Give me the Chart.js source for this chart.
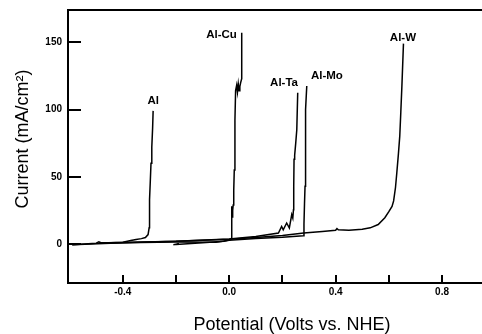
<!DOCTYPE html>
<html>
<head>
<meta charset="utf-8">
<script src="https://cdn.jsdelivr.net/npm/chart.js@4/dist/chart.umd.min.js"></script>
<style>
  html, body { margin: 0; padding: 0; background: #fff; overflow: hidden; }
  #wrap { width: 482px; height: 334px; overflow: hidden; position: relative; }
  canvas { display: block; }
</style>
</head>
<body>
<div id="wrap"><canvas id="c" width="520" height="334"></canvas></div>
<script>
// ---- Data (Potential V vs NHE, Current mA/cm2) ----
const alV   = [-0.59, -0.50, -0.49, -0.48, -0.40, -0.37, -0.35, -0.33, -0.315, -0.305, -0.301, -0.300, -0.299, -0.297, -0.294, -0.291, -0.288, -0.286];
const alI   = [-0.5, 0.6, 1.6, 0.8, 1.3, 2.6, 3.4, 4.0, 4.8, 7.0, 12, 22, 33, 45, 60, 72, 86, 99];

const cuV   = [-0.21, -0.19, -0.20, -0.10, -0.02, 0.005, 0.009, 0.010, 0.009, 0.012, 0.013, 0.015, 0.017, 0.019, 0.0215, 0.024, 0.028, 0.031, 0.034, 0.037, 0.040, 0.043, 0.047, 0.047];
const cuI   = [-0.5, 0.2, -0.3, 1.0, 2.0, 3.3, 4.5, 18, 28, 20, 25, 29, 40, 55, 92, 114, 118, 113, 119, 114, 117, 120, 123, 157];

const taV   = [-0.49, -0.40, -0.20, 0.00, 0.10, 0.185, 0.197, 0.203, 0.216, 0.226, 0.235, 0.239, 0.2415, 0.2425, 0.2437, 0.246, 0.250, 0.254, 0.2575];
const taI   = [0.8, 1.2, 2.0, 3.8, 5.5, 8.2, 13, 10.6, 15.6, 11.9, 21.8, 19.3, 25.5, 43, 63, 66, 75, 85, 112.5];

const moV   = [-0.49, -0.40, -0.20, -0.05, 0.00, 0.10, 0.20, 0.279, 0.281, 0.283, 0.285, 0.2855, 0.287, 0.2885, 0.2915];
const moI   = [0.8, 1.0, 1.5, 1.3, 2.8, 4.0, 5.0, 6.2, 15, 30, 43, 68, 92, 100, 117.5];

const wV    = [-0.59, -0.40, -0.20, 0.00, 0.10, 0.20, 0.28, 0.35, 0.40, 0.405, 0.41, 0.45, 0.50, 0.53, 0.56, 0.585, 0.600, 0.612, 0.618, 0.625, 0.630, 0.636, 0.641, 0.645, 0.649, 0.652, 0.655];
const wI    = [-0.5, 1.0, 2.0, 3.5, 4.8, 6.4, 8.2, 9.3, 10.2, 11.5, 10.6, 10.2, 11.0, 12.0, 14.5, 19.5, 24, 28, 32, 42, 53, 67, 80, 98, 117, 133, 149];

const labelNames = ["Al", "Al-Cu", "Al-Ta", "Al-Mo", "Al-W"];
const labelV     = [-0.286, -0.029, 0.206, 0.367, 0.653];
const labelI     = [106.5, 155.4, 120, 125, 153];

const xTickValues = [-0.4, -0.2, 0.0, 0.2, 0.4, 0.6, 0.8];
const xTickLabels = ["-0.4", "", "0.0", "", "0.4", "", "0.8"];
const yTickValues = [0, 50, 100, 150];
const yTickLabels = ["0", "50", "100", "150"];

// ---- build ----
function pts(xs, ys) { return xs.map((x, i) => ({ x: x, y: ys[i] })); }
const series = [
  { name: "Al", V: alV, I: alI },
  { name: "Al-Cu", V: cuV, I: cuI },
  { name: "Al-Ta", V: taV, I: taI },
  { name: "Al-Mo", V: moV, I: moI },
  { name: "Al-W", V: wV, I: wI }
];

const FONT = '"Liberation Sans", Arial, Helvetica, sans-serif';

const labelPlugin = {
  id: 'curveLabels',
  afterDatasetsDraw(chart) {
    const ctx = chart.ctx;
    const xs = chart.scales.x, ys = chart.scales.y;
    ctx.save();
    ctx.fillStyle = '#000';
    ctx.font = 'bold 11.5px ' + FONT;
    ctx.textAlign = 'center';
    ctx.textBaseline = 'middle';
    labelNames.forEach((t, i) => {
      ctx.fillText(t, xs.getPixelForValue(labelV[i]), ys.getPixelForValue(labelI[i]));
    });
    ctx.restore();
  }
};

new Chart(document.getElementById('c'), {
  type: 'line',
  data: {
    datasets: series.map(s => ({
      label: s.name,
      data: pts(s.V, s.I),
      borderColor: '#000',
      borderWidth: 1.5,
      pointRadius: 0,
      fill: false,
      tension: 0
    }))
  },
  options: {
    responsive: false,
    animation: false,
    devicePixelRatio: 1,
    layout: { padding: { left: 0, right: 4, top: 0, bottom: 0 } },
    plugins: { legend: { display: false }, tooltip: { enabled: false } },
    scales: {
      x: {
        type: 'linear',
        position: 'bottom',
        min: -0.606,
        max: 1.078,
        afterBuildTicks: (s) => { s.ticks = xTickValues.map(v => ({ value: v })); },
        afterFit: (s) => { s.height = 51; s.paddingLeft = 0; s.paddingRight = 0; },
        border: { display: true, color: '#000', width: 2 },
        grid: { drawOnChartArea: false, drawTicks: true, tickLength: -8, color: '#000', lineWidth: 2 },
        ticks: {
          autoSkip: false, maxRotation: 0, padding: 11.5, color: '#000',
          font: { family: FONT, size: 10, weight: 'bold' },
          callback: (v, i) => xTickLabels[i]
        },
        title: {
          display: true, text: 'Potential (Volts vs. NHE)', color: '#000',
          font: { family: FONT, size: 18, lineHeight: 1.0 },
          padding: { top: 0, bottom: 0 }
        }
      },
      x2: {
        type: 'linear',
        position: 'top',
        min: 0, max: 1,
        afterFit: (s) => { s.height = 10; s.paddingLeft = 0; s.paddingRight = 0; },
        border: { display: true, color: '#000', width: 2 },
        grid: { drawOnChartArea: false, drawTicks: false },
        ticks: { display: false }
      },
      y: {
        type: 'linear',
        position: 'left',
        min: -29,
        max: 174,
        afterBuildTicks: (s) => { s.ticks = yTickValues.map(v => ({ value: v })); },
        afterFit: (s) => { s.width = 68; s.paddingTop = 0; s.paddingBottom = 0; },
        border: { display: true, color: '#000', width: 2 },
        grid: { drawOnChartArea: false, drawTicks: true, tickLength: -13, color: '#000', lineWidth: 2 },
        ticks: {
          padding: 19, color: '#000',
          font: { family: FONT, size: 10, weight: 'bold' },
          callback: (v, i) => yTickLabels[i]
        },
        title: {
          display: true, text: '   Current (mA/cm²)', color: '#000',
          font: { family: FONT, size: 18, lineHeight: 1.2 },
          padding: { top: 12, bottom: 0 }
        }
      }
    }
  },
  plugins: [labelPlugin]
});
</script>
</body>
</html>
